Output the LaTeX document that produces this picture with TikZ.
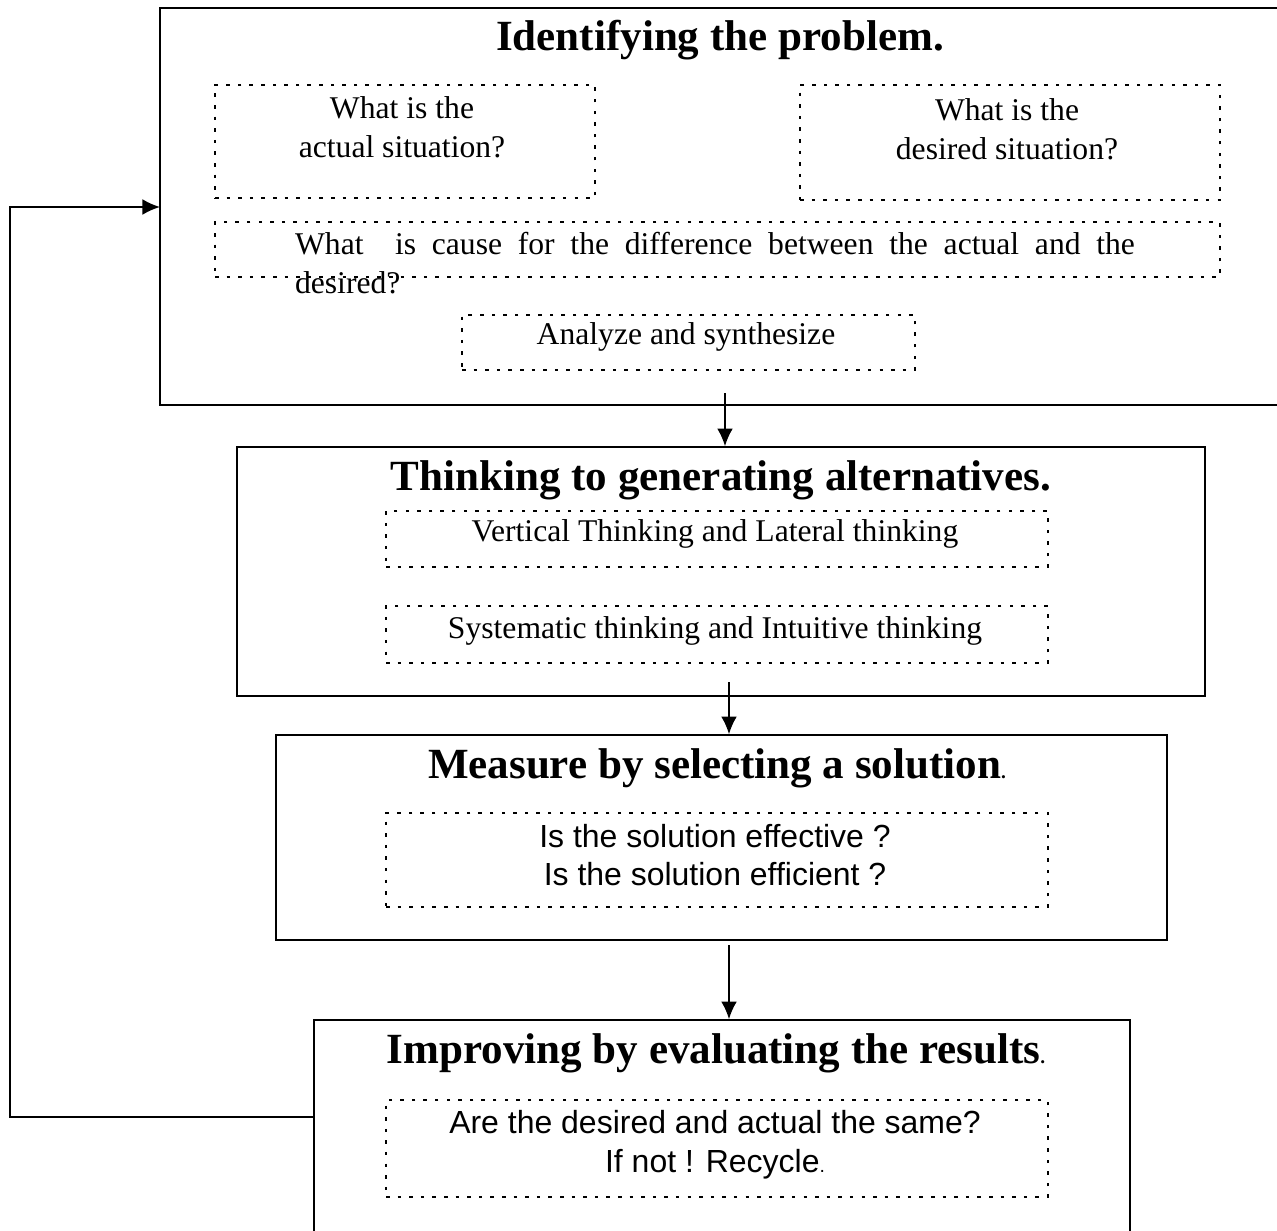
\documentclass[tikz,border=0pt]{standalone}
\usepackage{fontspec}
\setmainfont{Liberation Serif}
\setsansfont{Liberation Sans}
\usetikzlibrary{arrows.meta}

\tikzset{
  stagebox/.style={draw, line width=1pt, inner sep=0pt},
  askbox/.style={draw, line width=0.8pt, dash pattern=on 2pt off 4.6pt, inner sep=0pt},
  heading/.style={font=\fontsize{24.5}{28}\selectfont\bfseries},
  body/.style={font=\fontsize{18}{22}\selectfont, align=center, inner sep=0pt},
  sansbody/.style={font=\sffamily\fontsize{18.2}{22}\selectfont, align=center, inner sep=0pt},
  flow/.style={-{Latex[length=10pt,width=9pt]}, line width=1pt}
}
\newcommand{\smalldot}{{\fontsize{11}{13}\selectfont .}}

\begin{document}
\begin{tikzpicture}[x=0.02cm,y=-0.02cm]
\useasboundingbox (0,0) rectangle (1277,1230);

% stage 1
\node[stagebox, minimum width=22.8cm, minimum height=7.94cm] (identify) at (730,206.5) {};
\node[heading] (identifyhd) at (720,40) {Identifying the problem.};
\node[askbox, minimum width=7.6cm, minimum height=2.26cm] (actual) at (405,141.5) {};
\node[body] (actualtxt) at (402,127) {What is the\\actual situation?};
\node[askbox, minimum width=8.4cm, minimum height=2.3cm] (desired) at (1010,142.5) {};
\node[body] (desiredtxt) at (1007,129) {What is the\\desired situation?};
\node[askbox, minimum width=20.1cm, minimum height=1.1cm] (cause) at (717.5,249.5) {};
\node[body, align=justify, text width=16.8cm] (causetxt) at (715,263)
  {What \ is cause for the difference between the actual and the\linebreak desired?};
\node[askbox, minimum width=9.06cm, minimum height=1.1cm] (analyze) at (688.5,342.5) {};
\node[body] (analyzetxt) at (686,337) {Analyze and synthesize};

% stage 2
\node[stagebox, minimum width=19.36cm, minimum height=4.98cm] (generate) at (721,571.5) {};
\node[heading] (generatehd) at (721,480) {Thinking to generating alternatives.};
\node[askbox, minimum width=13.24cm, minimum height=1.12cm] (vertical) at (717,539) {};
\node[body] (verticaltxt) at (715,534) {Vertical Thinking and Lateral thinking};
\node[askbox, minimum width=13.24cm, minimum height=1.14cm] (system) at (717,634.5) {};
\node[body] (systemtxt) at (715,631) {Systematic thinking and Intuitive thinking};

% stage 3
\node[stagebox, minimum width=17.82cm, minimum height=4.1cm] (measure) at (721.5,837.5) {};
\node[heading] (measurehd) at (717,768) {Measure by selecting a solution\smalldot};
\node[askbox, minimum width=13.24cm, minimum height=1.88cm] (check) at (717,860) {};
\node[sansbody] (checktxt) at (715,855) {Is the solution effective ?\\Is the solution efficient ?};

% stage 4
\node[stagebox, minimum width=16.32cm, minimum height=5cm] (improve) at (722,1145) {};
\node[heading] (improvehd) at (716,1053) {Improving by evaluating the results\smalldot};
\node[askbox, minimum width=13.24cm, minimum height=1.94cm] (same) at (717,1148.5) {};
\node[sansbody] (sametxt) at (715,1145) {Are the desired and actual the same?\\If not ! Recycle\smalldot};

% connectors
\coordinate (go1) at (725,393);
\coordinate (go2) at (729,682);
\coordinate (go3) at (729,945);
\draw[flow] (go1) -- (go1 |- generate.north);
\draw[flow] (go2) -- (go2 |- measure.north);
\draw[flow] (go3) -- (go3 |- improve.north);

\coordinate (back) at (10,1117);
\coordinate (entry) at (160,207);
\draw[flow] (back -| improve.west) -- (back) |- (entry);
\end{tikzpicture}
\end{document}
